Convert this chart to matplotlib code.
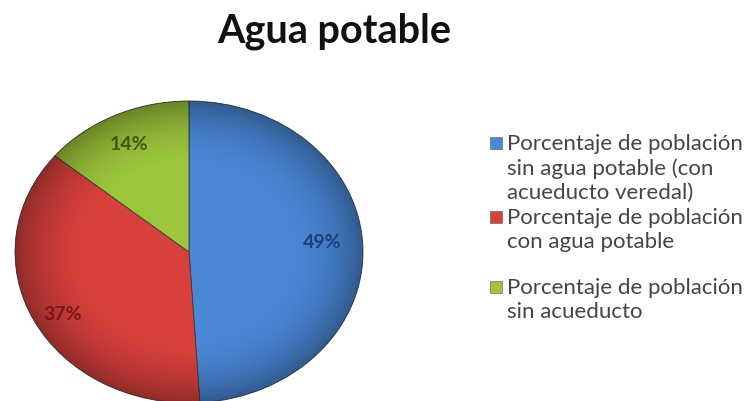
import matplotlib
matplotlib.use("Agg")
import matplotlib.pyplot as plt
import numpy as np
from matplotlib.patches import Rectangle, Circle

title = "Agua potable"
labels = ["Porcentaje de población\nsin agua potable (con\nacueducto veredal)",
          "Porcentaje de población\ncon agua potable",
          "Porcentaje de población\nsin acueducto"]
values = [49, 37, 14]
colors = ["#4a87d6", "#d8403c", "#9cc63c"]
text_colors = ["#1e3f78", "#7a1616", "#3d5812"]

W, H = 748, 402
fig = plt.figure(figsize=(W / 100, H / 100), dpi=100)
fig.patch.set_facecolor("white")

def fx(px):
    return px / W

def fy(py):
    return 1 - py / H

# Pie axes: ellipse from x 15..363, y 102..404 (pixels)
ax = fig.add_axes([fx(15), fy(404), (363 - 15) / W, (404 - 102) / H])
wedges, texts = ax.pie(values, colors=colors, startangle=90, counterclock=False,
                       radius=1.0,
                       wedgeprops=dict(edgecolor="#3a3a3a", linewidth=0.6))
ax.set_aspect("auto")
ax.axis("off")

# edge shading overlay (darker towards rim)
n = 400
yy, xx = np.mgrid[-1:1:n * 1j, -1:1:n * 1j]
rr = np.sqrt(xx ** 2 + yy ** 2)
alpha = np.clip((rr - 0.55) / 0.45, 0, 1) ** 2 * 0.33
img = np.zeros((n, n, 4))
img[..., 3] = alpha
im = ax.imshow(img, extent=(-1, 1, -1, 1), origin="lower", zorder=3,
               interpolation="bilinear", aspect="auto")
clip = Circle((0, 0), 1.0, transform=ax.transData)
im.set_clip_path(clip)
ax.set_xlim(-1, 1)
ax.set_ylim(-1, 1)

# percentage labels
label_pos = [(322, 243), (63, 315), (129, 145)]
for v, (px, py), tc in zip(values, label_pos, text_colors):
    fig.text(fx(px), fy(py), f"{v}%", ha="center", va="center",
             fontsize=14, color=tc, fontweight="bold", family="Lato", zorder=5)

# title
fig.text(fx(334), fy(31), title, ha="center", va="center", fontsize=28.5,
         fontweight="bold", family="Lato", color="#111111")

# legend
legend_y = [146, 220, 290]
for lab, c, ly in zip(labels, colors, legend_y):
    fig.patches.append(Rectangle((fx(490), fy(ly + 4)), 12 / W, 12 / H,
                                 transform=fig.transFigure, facecolor=c,
                                 edgecolor="#555555", linewidth=0.4))
    fig.text(fx(507), fy(ly - 12), lab, ha="left", va="top", fontsize=16,
             color="#454545", family="Lato", linespacing=1.26)

fig.savefig("out.png", dpi=100)
